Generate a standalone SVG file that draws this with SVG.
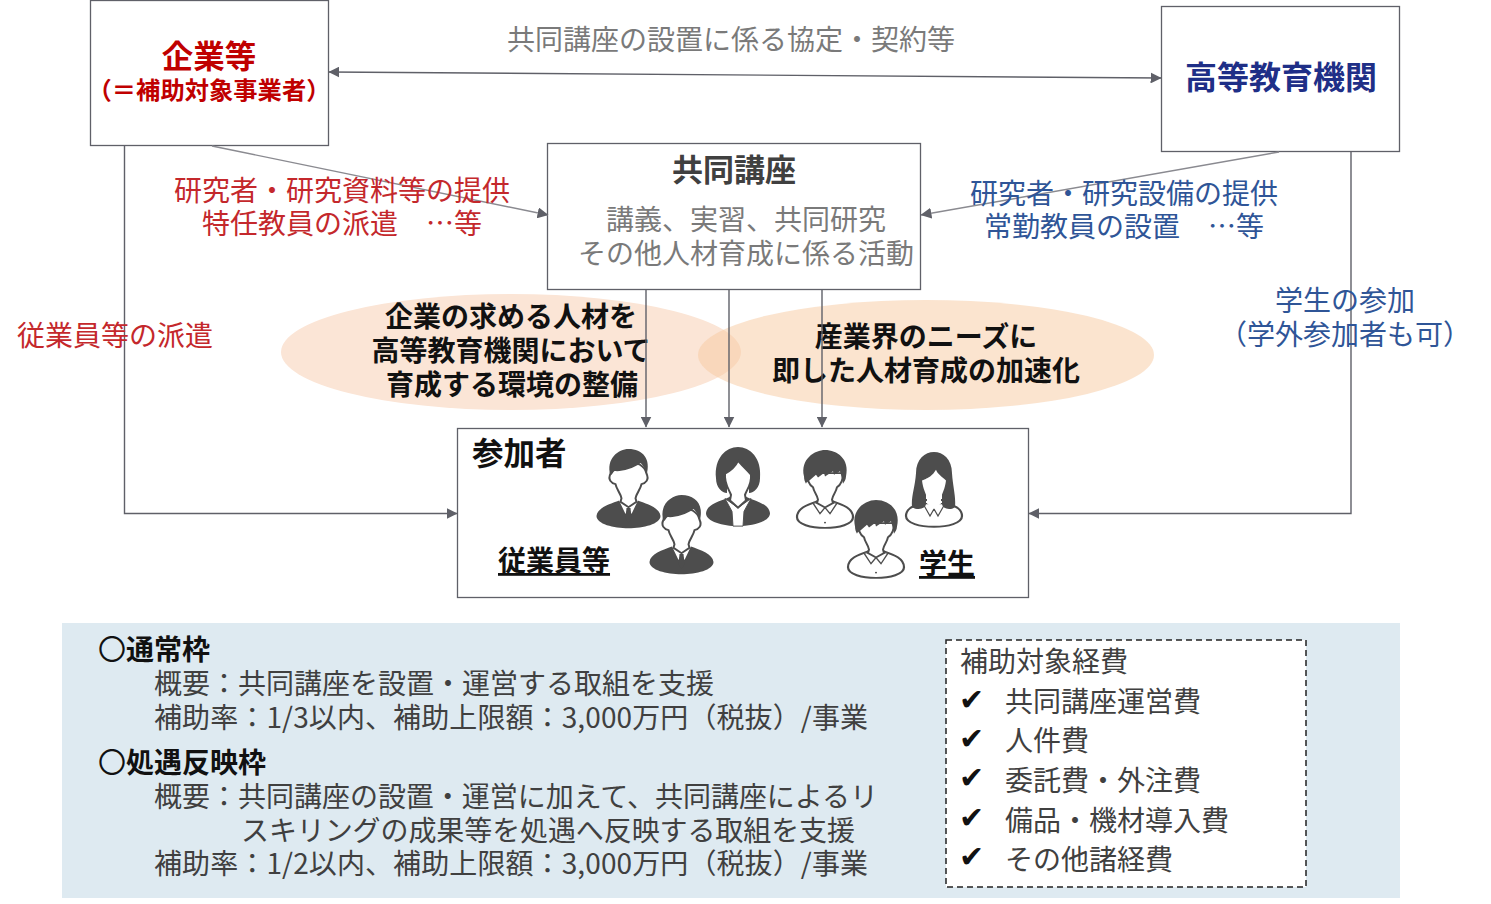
<svg xmlns="http://www.w3.org/2000/svg" width="1491" height="904" viewBox="0 0 1491 904">
<style>
text{font-family:"Noto Sans CJK JP","Noto Sans",sans-serif;font-size:28px;fill:#404040}
.b{font-weight:700}
.m{text-anchor:middle}
.box{fill:#fff;stroke:#5f6068;stroke-width:1.3}
.red{fill:#c4282c}
.blue{fill:#2f5597}
.gr{fill:#7a7a7a}
.k{fill:#111}
.conn{fill:none;stroke:#5f6068;stroke-width:1.4}
.d{fill:#4d4d4d}
.face{fill:#fff;stroke:#4d4d4d;stroke-width:2}
.chk{font-family:"DejaVu Sans",sans-serif;font-size:30px;fill:#111}
.n{font-weight:400}
</style>
<defs>
<marker id="a" viewBox="0 0 10 10" refX="9.500" refY="5" markerWidth="11" markerHeight="11" markerUnits="userSpaceOnUse" orient="auto-start-reverse"><path d="M0 0L10 5L0 10Z" fill="#5f6068"/></marker>
<g id="suit">
<path class="d" d="M-32 76C-31 67-20 63-8 58L8 58C20 63 31 67 32 76C32 85 15 90 0 90C-15 90-32 85-32 76Z"/>
<path fill="#fff" d="M-10 57L-3 74L0 66L3 74L10 57L0 62Z"/>
<path class="d" d="M-2 67L2 67L3 79L0 84L-3 79Z"/>
<path class="face" d="M-18 28C-21 35-17 39-13 40C-12 46-8 50-7 56L-8 60L0 66L8 60L7 56C8 50 12 46 13 40C17 39 21 35 18 28C15 10-15 10-18 28Z"/>
<path class="d" d="M-18 30C-23 11-10 0 0 0C14 0 23 11 18 30C17 23 15 19 12 16C4 23-8 26-14 25C-16 27-16 29-18 30Z"/>
</g>
<g id="blazer">
<path class="d" d="M-32 72C-31 62-20 60-8 54L8 54C20 60 31 62 32 72C32 81 15 86 0 86C-15 86-32 81-32 72Z"/>
<path fill="#fff" stroke="#4d4d4d" d="M-13 56L-6 70L-5 86L5 86L6 70L13 56L0 66Z"/>
<path class="d" d="M-22 34C-24 12-12 0 0 0C12 0 24 12 22 34C22 44 16 50 11 50L11 32L0 16C-4 24-8 28-11 30L-11 50C-16 50-22 44-22 34Z"/>
<path class="face" d="M-13 29C-14 40-9 46-7 52L-8 58L0 66L8 58L7 52C9 46 14 40 13 30C8 24 3 19 0 15C-3 22-8 26-13 29Z"/>
</g>
<g id="shirt">
<path fill="#fff" stroke="#4d4d4d" stroke-width="2.200" d="M-28 76C-28 66-18 62-8 58L8 58C18 62 28 66 28 76C28 84 14 88 0 88C-14 88-28 84-28 76Z"/>
<path fill="#fff" stroke="#4d4d4d" stroke-width="1.400" d="M-12 60L-5 72L0 65L5 72L12 60L0 58Z"/>
<circle class="d" cx="0" cy="82" r="1"/>
<path class="face" d="M-18 26C-18 36-15 40-12 42C-11 48-8 50-7 56L-8 60L0 65L8 60L7 56C8 50 11 48 12 42C15 40 18 36 18 26Z"/>
<path class="d" d="M-21 30C-25 10-10 0 0 0C12 0 25 10 21 30C21 34 19 36 18 38C17 32 16 28 15 24L9 28L8 24L0 30L-1 26L-7 31L-9 28L-15 34C-17 36-19 37-19 38C-20 36-21 34-21 30Z"/>
</g>
<g id="hairgirl">
<path fill="#fff" stroke="#4d4d4d" stroke-width="2.200" d="M-28 72C-28 62-18 60-8 54L8 54C18 60 28 62 28 72C28 80 14 84 0 84C-14 84-28 80-28 72Z"/>
<path fill="#fff" stroke="#4d4d4d" stroke-width="1.200" d="M-11 58L-4 72L0 64L4 72L11 58Z"/>
<path class="d" d="M-18 24C-18 8-9 0 0 0C9 0 18 8 18 24C19 40 22 50 21 62C16 66 8 64 8 58L8 30L-8 30L-8 58C-8 64-16 66-22 62C-23 50-19 40-18 24Z"/>
<path fill="#fff" d="M-12 32C-11 42-8 46-7 52L-7 58L0 64L7 58L7 52C8 46 11 42 12 32C8 28 3 24 2 20C-1 26-6 30-12 32Z"/>
</g>
</defs>

<g id="panel">
<rect x="62" y="623" width="1338" height="275" fill="#deeaf1"/>
</g>

<g id="ellipses">
<ellipse id="ellipse-left" cx="511" cy="352" rx="230" ry="58" fill="#fbe5d6"/>
<ellipse id="ellipse-right" cx="926" cy="355" rx="228" ry="55" fill="#f7c9a0" fill-opacity=".5"/>
<text class="b k m" x="511" y="327">企業の求める人材を</text>
<text class="b k m" x="511" y="361">高等教育機関において</text>
<text class="b k m" x="512" y="395">育成する環境の整備</text>
<text class="b k m" x="926" y="347">産業界のニーズに</text>
<text class="b k m" x="926" y="381">即した人材育成の加速化</text>
</g>

<g id="node-company">
<rect class="box" x="90.500" y="0.500" width="238" height="145"/>
<text class="b m" x="209" y="68" style="font-size:31.500px;fill:#c00000">企業等</text>
<text class="b m" x="209" y="99" style="font-size:24.300px;fill:#c00000">（＝補助対象事業者）</text>
</g>

<g id="node-university">
<rect class="box" x="1161.500" y="6.500" width="238" height="145"/>
<text class="b m" x="1281" y="89" style="font-size:32px;fill:#1f2f87">高等教育機関</text>
</g>

<g id="node-course">
<rect class="box" x="547.500" y="143.500" width="373" height="146"/>
<text class="b m" x="734" y="181" style="font-size:31px">共同講座</text>
<text class="gr m" x="746" y="230">講義、実習、共同研究</text>
<text class="gr m" x="746" y="264">その他人材育成に係る活動</text>
</g>

<g id="node-participants">
<rect class="box" x="457.500" y="428.500" width="571" height="169"/>
<text class="b k" x="472" y="465" style="font-size:31.500px">参加者</text>
<text class="b k" x="498" y="571" text-decoration="underline">従業員等</text>
<text class="b k" x="919" y="574" text-decoration="underline">学生</text>
<use href="#suit" transform="translate(628.500 449) scale(1 .88)"/>
<use href="#suit" transform="translate(681.500 495) scale(1 .88)"/>
<use href="#blazer" transform="translate(738 447) scale(1 .92)"/>
<use href="#shirt" transform="translate(825 450) scale(1 .885)"/>
<use href="#hairgirl" transform="translate(934 452) scale(1 .89)"/>
<use href="#shirt" transform="translate(876 500) scale(1 .885)"/>
</g>

<g id="connectors" class="conn">
<path marker-start="url(#a)" marker-end="url(#a)" d="M329 72L1161 78"/>
<path marker-end="url(#a)" d="M212 146L548 215" stroke="#8a8a90"/>
<path marker-end="url(#a)" d="M1279 152L921 215" stroke="#8a8a90"/>
<path marker-end="url(#a)" d="M124.500 146V513.500H457"/>
<path marker-end="url(#a)" d="M1351 152V513.500H1029"/>
<path marker-end="url(#a)" d="M646 290V427"/>
<path marker-end="url(#a)" d="M729 290V427"/>
<path marker-end="url(#a)" d="M822 290V427"/>
</g>

<g id="labels">
<text class="gr m" x="731" y="50">共同講座の設置に係る協定・契約等</text>
<text class="red m" x="342" y="201">研究者・研究資料等の提供</text>
<text class="red m" x="342" y="234">特任教員の派遣　…等</text>
<text class="blue m" x="1124" y="204">研究者・研究設備の提供</text>
<text class="blue m" x="1124" y="237">常勤教員の設置　…等</text>
<text class="red" x="17" y="346">従業員等の派遣</text>
<text class="blue m" x="1345" y="311">学生の参加</text>
<text class="blue m" x="1345" y="345">（学外参加者も可）</text>
</g>

<g id="program-text">
<text class="b k" x="98" y="660"><tspan class="n">〇</tspan>通常枠</text>
<text x="154" y="694">概要：共同講座を設置・運営する取組を支援</text>
<text x="154" y="728" textLength="714">補助率：1/3以内、補助上限額：3,000万円（税抜）/事業</text>
<text class="b k" x="98" y="773"><tspan class="n">〇</tspan>処遇反映枠</text>
<text x="154" y="807" textLength="724">概要：共同講座の設置・運営に加えて、共同講座によるリ</text>
<text x="241" y="841" textLength="614">スキリングの成果等を処遇へ反映する取組を支援</text>
<text x="154" y="874" textLength="714">補助率：1/2以内、補助上限額：3,000万円（税抜）/事業</text>
</g>

<g id="node-costs">
<rect x="946" y="640" width="360" height="247" fill="#fff" stroke="#222" stroke-width="1.500" stroke-dasharray="6 4"/>
<text x="960" y="672">補助対象経費</text>
<text class="chk" x="959" y="710">✔</text><text x="1005" y="712">共同講座運営費</text>
<text class="chk" x="959" y="749">✔</text><text x="1005" y="751">人件費</text>
<text class="chk" x="959" y="788">✔</text><text x="1005" y="791">委託費・外注費</text>
<text class="chk" x="959" y="828">✔</text><text x="1005" y="831">備品・機材導入費</text>
<text class="chk" x="959" y="867">✔</text><text x="1005" y="870">その他諸経費</text>
</g>
</svg>
